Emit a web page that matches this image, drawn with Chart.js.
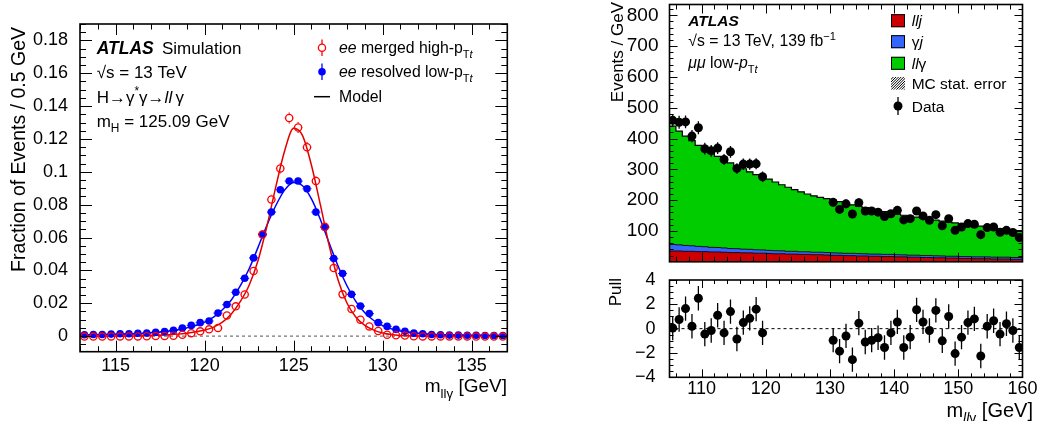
<!DOCTYPE html>
<html><head><meta charset="utf-8">
<script src="https://cdn.jsdelivr.net/npm/chart.js@4.4.1/dist/chart.umd.min.js"></script>
<style>
html,body{margin:0;padding:0;background:#fff;}
#wrap{position:relative;width:1038px;height:421px;overflow:hidden;background:#fff;}
.pane{position:absolute;}
canvas{display:block;}
</style></head><body>
<div id="wrap">
<div class="pane" style="left:0;top:0;width:520px;height:421px"><canvas id="cLeft" width="520" height="421"></canvas></div>
<div class="pane" style="left:520px;top:0;width:518px;height:270px"><canvas id="cTop" width="518" height="270"></canvas></div>
<div class="pane" style="left:520px;top:270px;width:518px;height:151px"><canvas id="cPull" width="518" height="151"></canvas></div>
</div>
<script>
const FAM = '"Liberation Sans", Arial, Helvetica, sans-serif';

// ---------------- LEFT PANEL DATA ----------------
const binCentres = [113.25,113.75,114.25,114.75,115.25,115.75,116.25,116.75,117.25,117.75,118.25,118.75,119.25,119.75,120.25,120.75,121.25,121.75,122.25,122.75,123.25,123.75,124.25,124.75,125.25,125.75,126.25,126.75,127.25,127.75,128.25,128.75,129.25,129.75,130.25,130.75,131.25,131.75,132.25,132.75,133.25,133.75,134.25,134.75,135.25,135.75,136.25,136.75];
const mergedHighPt = [-0.0003,-0.0003,-0.0003,-0.0002,-0.0002,-0.0002,-0.0002,-0.0001,0.0000,0.0001,0.0002,0.0008,0.0018,0.0029,0.0041,0.0049,0.0126,0.0181,0.0253,0.0397,0.0619,0.0832,0.1021,0.1328,0.1270,0.1150,0.0944,0.0665,0.0415,0.0254,0.0165,0.0100,0.0059,0.0031,0.0008,0.0005,0.0003,-0.0001,-0.0002,-0.0002,-0.0002,-0.0002,-0.0002,-0.0002,-0.0003,-0.0003,-0.0003,-0.0003];
const mergedErr = [0.0004,0.0004,0.0004,0.0004,0.0004,0.0004,0.0004,0.0004,0.0004,0.0004,0.0004,0.0006,0.0007,0.0008,0.0009,0.0010,0.0013,0.0015,0.0018,0.0022,0.0026,0.0029,0.0031,0.0033,0.0033,0.0031,0.0029,0.0025,0.0021,0.0017,0.0014,0.0011,0.0009,0.0007,0.0005,0.0004,0.0004,0.0004,0.0004,0.0004,0.0004,0.0004,0.0004,0.0004,0.0004,0.0004,0.0004,0.0004];
const resolvedLowPt = [0.0008,0.0010,0.0010,0.0012,0.0014,0.0014,0.0017,0.0019,0.0023,0.0027,0.0035,0.0049,0.0065,0.0082,0.0092,0.0140,0.0192,0.0267,0.0352,0.0476,0.0619,0.0755,0.0891,0.0944,0.0944,0.0897,0.0755,0.0663,0.0472,0.0381,0.0254,0.0183,0.0137,0.0082,0.0059,0.0041,0.0029,0.0018,0.0014,0.0010,0.0008,0.0006,0.0006,0.0005,0.0005,0.0004,0.0004,0.0004];
const resolvedErr = [0.0003,0.0003,0.0003,0.0003,0.0003,0.0003,0.0003,0.0003,0.0003,0.0003,0.0003,0.0004,0.0004,0.0005,0.0005,0.0006,0.0007,0.0008,0.0009,0.0010,0.0011,0.0012,0.0012,0.0013,0.0013,0.0012,0.0012,0.0011,0.0010,0.0009,0.0008,0.0007,0.0006,0.0005,0.0005,0.0004,0.0003,0.0003,0.0003,0.0003,0.0003,0.0003,0.0003,0.0003,0.0003,0.0003,0.0003,0.0003];
const binHalfWidth = 0.25;
const modelMass = [113,113.5,114,114.5,115,115.5,116,116.5,117,117.5,118,118.5,119,119.5,120,120.5,121,121.5,122,122.5,123,123.5,124,124.5,125,125.5,126,126.5,127,127.5,128,128.5,129,129.5,130,130.5,131,131.5,132,132.5,133,133.5,134,134.5,135,135.5,136,136.5,137];
const modelMerged = [0,0,0,0,0,0.0001,0.0001,0.0002,0.0003,0.0005,0.0008,0.0012,0.0018,0.0026,0.0037,0.0055,0.0085,0.0135,0.0210,0.0310,0.0460,0.0670,0.0910,0.1130,0.1265,0.1220,0.1040,0.0800,0.0550,0.0340,0.0200,0.0115,0.0065,0.0036,0.0019,0.0009,0.0004,0.0002,0.0001,0,0,0,0,0,0,0,0,0,0];
const modelResolved = [0.0007,0.0008,0.0008,0.0009,0.0010,0.0011,0.0013,0.0015,0.0021,0.0025,0.0031,0.0039,0.0050,0.0065,0.0085,0.0115,0.0160,0.0220,0.0305,0.0410,0.0540,0.0675,0.0795,0.0890,0.0935,0.0915,0.0835,0.0710,0.0565,0.0425,0.0305,0.0210,0.0142,0.0095,0.0064,0.0044,0.0031,0.0023,0.0017,0.0013,0.0010,0.0008,0.0007,0.0006,0.0005,0.0005,0.0004,0.0004,0.0003];
const leftXTicks = [115,120,125,130,135];
const leftYTicks = [0,0.02,0.04,0.06,0.08,0.1,0.12,0.14,0.16,0.18];

// ---------------- RIGHT PANEL DATA ----------------
const binEdges = [105,106,107,108,109,110,111,112,113,114,115,116,117,118,119,120,121,122,123,124,125,126,127,128,129,130,131,132,133,134,135,136,137,138,139,140,141,142,143,144,145,146,147,148,149,150,151,152,153,154,155,156,157,158,159,160];
const lljBkg = [36,35,35,34,34,33,33,32,32,31,30,30,29,29,28, 28,27,26,26,25,25,24,24,23,23, 22,21,21,20,20,19,19,18,18,17, 17,16,16,15,15,14,14,13,13,12, 12,11,11,10,10,10,9,9,9,8];
const gjBkg = [23,21,20,19,18,17,16,15,14.5,14,13,12.5,12,11.5,11, 10.5,10,10,9.5,9,9,8.5,8.5,8,8, 8,8,7.5,7.5,7.5,7.5,7,7,7,7, 7,7,6.5,6.5,6.5,6.5,6.5,6.5,6,6, 6,6,6,6,6,6,6,6,6,6];
const stackTotal = [452,440,424,408,393,378,365,353,342,332,321,311,302,292,283, 276,268,259,250,242,234,227,220,214,209, 205,200,195,190,185,180,176,171,167,163, 159,155,151,148,145,141,138,135,132,129, 126,123,121,118,116,113,110,107,104,101];
const dataMass = [105.5,106.5,107.5,108.5,109.5,110.5,111.5,112.5,113.5,114.5,115.5,116.5,117.5,118.5,119.5,130.5,131.5,132.5,133.5,134.5,135.5,136.5,137.5,138.5,139.5,140.5,141.5,142.5,143.5,144.5,145.5,146.5,147.5,148.5,149.5,150.5,151.5,152.5,153.5,154.5,155.5,156.5,157.5,158.5,159.5];
const dataEvents = [459,453,454,408,435,367,360,369,332,357,303,317,317,318,276, 193,170,188,155,192,165,165,161,147,156,167,136,140,165,149,135,153,117,140,102,113,124,122,88,111,113,96,102,95,79];
const dataErr = [21,21,21,20,21,19,19,19,18,19,17,18,18,18,17, 14,13,14,12,14,13,13,13,12,12,13,12,12,13,12, 12,12,11,12,10,11,11,11,9,11, 11,10,10,10,9];
const pullValues = [0.05,0.75,1.65,0.2,2.5,-0.45,-0.15,1.1,-0.35,1.4,-0.85,0.5,0.85,1.6,-0.35, -0.95,-1.85,-0.6,-2.55,0.45,-1.1,-0.95,-0.75,-1.55,-0.35, 0.55,-1.55,-0.7,1.55,0.55,-0.15,1.5,-1.0,1.0,-2.05, -0.7,0.5,0.8,-2.25,0.2,0.65,-0.45,0.4,-0.15,-1.55];
const pullErr = 1;
const topYTicks = [100,200,300,400,500,600,700,800];
const pullXTicks = [110,120,130,140,150,160];
const pullYTicks = [-4,-2,0,2,4];

// ---------------- helpers ----------------
function range(a, b, s){ const r=[]; for(let v=a; v<=b+1e-9; v+=s) r.push(+v.toFixed(6)); return r; }
function fontStr(p, size){ return (p.i?'italic ':'') + (p.b?'bold ':'') + size + 'px ' + FAM; }
function rich(ctx, x, y, parts, size, align){
  let w = 0;
  const items = parts.map(p => { const s = (p.sub||p.sup) ? size*0.7 : size; ctx.font = fontStr(p, s); const m = ctx.measureText(p.t).width; w += m; return {p, s, m}; });
  let cx = align === 'right' ? x - w : (align === 'center' ? x - w/2 : x);
  const base = y + size*0.36;
  ctx.textAlign = 'left'; ctx.textBaseline = 'alphabetic'; ctx.fillStyle = '#000';
  items.forEach(it => { ctx.font = fontStr(it.p, it.s); let by = base; if (it.p.sub) by += size*0.3; if (it.p.sup) by -= size*0.42; ctx.fillText(it.p.t, cx, by); cx += it.m; });
  return w;
}
function vrich(ctx, cx, top, parts, size){
  ctx.save(); ctx.translate(cx, top); ctx.rotate(-Math.PI/2); rich(ctx, 0, 0, parts, size, 'right'); ctx.restore();
}
function toPts(xs, ys){ return xs.map((x,i)=>({x, y: ys[i]})); }
function stepPts(edges, vals){ return edges.map((e,i)=>({x:e, y: vals[Math.min(i, vals.length-1)]})); }

const rootAxes = {
  id: 'rootAxes',
  afterDatasetsDraw(chart, args, o){
    const {ctx, chartArea: a} = chart; const xs = chart.scales.x, ys = chart.scales.y;
    ctx.save(); ctx.strokeStyle = '#000'; ctx.lineWidth = 1; ctx.beginPath();
    const doX = (vals, len) => vals.forEach(v => { const p = Math.round(xs.getPixelForValue(v)) + 0.5; if (p < a.left-0.5 || p > a.right+0.5) return; ctx.moveTo(p, a.bottom); ctx.lineTo(p, a.bottom - len); ctx.moveTo(p, a.top); ctx.lineTo(p, a.top + len); });
    const doY = (vals, len) => vals.forEach(v => { const p = Math.round(ys.getPixelForValue(v)) + 0.5; if (p < a.top-0.5 || p > a.bottom+0.5) return; ctx.moveTo(a.left, p); ctx.lineTo(a.left + len, p); ctx.moveTo(a.right, p); ctx.lineTo(a.right - len, p); });
    doX(o.xMajor, o.xMajLen); doX(o.xMinor, o.xMinLen); doY(o.yMajor, o.yMajLen); doY(o.yMinor, o.yMinLen);
    ctx.stroke();
    ctx.lineWidth = 1.6; ctx.strokeRect(a.left, a.top, a.right - a.left, a.bottom - a.top);
    ctx.restore();
  }
};

const errBars = {
  id: 'errBars',
  afterDatasetsDraw(chart){
    const {ctx, chartArea: a} = chart; const xs = chart.scales.x, ys = chart.scales.y;
    ctx.save(); ctx.beginPath(); ctx.rect(a.left, a.top, a.right-a.left, a.bottom-a.top); ctx.clip();
    chart.data.datasets.forEach((ds, di) => {
      if (ds.errY === undefined) return;
      const meta = chart.getDatasetMeta(di);
      ctx.strokeStyle = ds.errColor; ctx.lineWidth = ds.errWidth || 1.2; ctx.beginPath();
      const r = ds.skipR || 0;
      meta.data.forEach((pt, i) => {
        const d = ds.data[i];
        const ey = Array.isArray(ds.errY) ? ds.errY[i] : ds.errY;
        const yt = ys.getPixelForValue(d.y + ey), yb = ys.getPixelForValue(d.y - ey);
        if (pt.y - yt > r) { ctx.moveTo(pt.x, yt); ctx.lineTo(pt.x, pt.y - r); }
        if (yb - pt.y > r) { ctx.moveTo(pt.x, pt.y + r); ctx.lineTo(pt.x, yb); }
        if (ds.errX) {
          const xl = xs.getPixelForValue(d.x - ds.errX), xr = xs.getPixelForValue(d.x + ds.errX);
          if (pt.x - xl > r) { ctx.moveTo(xl, pt.y); ctx.lineTo(pt.x - r, pt.y); }
          if (xr - pt.x > r) { ctx.moveTo(pt.x + r, pt.y); ctx.lineTo(xr, pt.y); }
        }
      });
      ctx.stroke();
    });
    ctx.restore();
  }
};

function fixedAxis(size, isY){
  return s => { if (isY) { s.width = size; s.paddingTop = 0; s.paddingBottom = 0; } else { s.height = size; s.paddingLeft = 0; s.paddingRight = 0; } };
}
const baseOpts = { responsive:false, animation:false, devicePixelRatio:1, events:[] };

// ---------------- LEFT CHART ----------------
const leftText = {
  id: 'leftText',
  afterDraw(chart){
    const ctx = chart.ctx; ctx.save();
    rich(ctx, 96.7, 47.7, [{t:'ATLAS', b:true, i:true}], 17.5);
    rich(ctx, 162, 47.7, [{t:'Simulation'}], 17);
    rich(ctx, 96.7, 71.5, [{t:'\u221As = 13 TeV'}], 17);
    rich(ctx, 96.7, 96.5, [{t:'H\u2192\u03B3'},{t:'*',sup:true},{t:'\u03B3\u2192'},{t:'ll',i:true},{t:'\u2009\u03B3'}], 17);
    rich(ctx, 96.7, 120.5, [{t:'m'},{t:'H',sub:true},{t:' = 125.09 GeV'}], 17);
    // legend
    ctx.strokeStyle = '#ff0000'; ctx.lineWidth = 1.3;
    ctx.beginPath(); ctx.arc(322, 47.7, 3.6, 0, Math.PI*2); ctx.stroke();
    ctx.beginPath(); ctx.moveTo(322, 39.5); ctx.lineTo(322, 44); ctx.moveTo(322, 51.4); ctx.lineTo(322, 56); ctx.stroke();
    ctx.fillStyle = '#0000ff'; ctx.strokeStyle = '#0000ff';
    ctx.beginPath(); ctx.arc(322, 71.7, 3.8, 0, Math.PI*2); ctx.fill();
    ctx.beginPath(); ctx.moveTo(322, 63.5); ctx.lineTo(322, 80); ctx.stroke();
    ctx.strokeStyle = '#000'; ctx.lineWidth = 1.5;
    ctx.beginPath(); ctx.moveTo(314, 96.7); ctx.lineTo(330, 96.7); ctx.stroke();
    rich(ctx, 339, 47.7, [{t:'ee',i:true},{t:' merged high-p'},{t:'T',sub:true},{t:'t',sub:true,i:true}], 15.8);
    rich(ctx, 339, 71.7, [{t:'ee',i:true},{t:' resolved low-p'},{t:'T',sub:true},{t:'t',sub:true,i:true}], 15.8);
    rich(ctx, 339, 96.7, [{t:'Model'}], 15.8);
    // axis titles
    vrich(ctx, 17.5, 27, [{t:'Fraction of Events / 0.5 GeV'}], 19.5);
    rich(ctx, 507, 385, [{t:'m'},{t:'ll\u03B3',sub:true},{t:' [GeV]'}], 19, 'right');
    ctx.restore();
  }
};

new Chart(document.getElementById('cLeft'), {
  type: 'scatter',
  data: { datasets: [
    { label:'ee merged high-pTt', data: toPts(binCentres, mergedHighPt), pointRadius:3.6, pointBorderWidth:1.3, borderColor:'#ff0000', backgroundColor:'rgba(0,0,0,0)', errY: mergedErr, errX: binHalfWidth, errColor:'#ff0000', skipR:4.2 },
    { label:'ee resolved low-pTt', data: toPts(binCentres, resolvedLowPt), pointRadius:3.8, pointBorderWidth:0, borderColor:'#0000ff', backgroundColor:'#0000ff', errY: resolvedErr, errX: binHalfWidth, errColor:'#0000ff', skipR:3.6 },
    { type:'line', label:'Model merged', data: toPts(modelMass, modelMerged), borderColor:'#e00000', borderWidth:1.5, pointRadius:0, cubicInterpolationMode:'monotone', fill:false },
    { type:'line', label:'Model resolved', data: toPts(modelMass, modelResolved), borderColor:'#0000ff', borderWidth:1.5, pointRadius:0, cubicInterpolationMode:'monotone', fill:false },
    { type:'line', label:'zero', data: [{x:113,y:0},{x:137,y:0}], borderColor:'#555', borderWidth:1, borderDash:[3,3], pointRadius:0, fill:false }
  ]},
  options: Object.assign({}, baseOpts, {
    layout: { padding: { left:0, top:24, right:12.7, bottom:0 } },
    plugins: { legend:{display:false}, tooltip:{enabled:false},
      rootAxes: { xMajor: leftXTicks, xMinor: range(113,137,1), yMajor: leftYTicks, yMinor: range(-0.005,0.19,0.005), xMajLen:11, xMinLen:5.5, yMajLen:12, yMinLen:6 } },
    scales: {
      x: { type:'linear', min:113, max:137, grid:{display:false}, border:{display:false},
           afterBuildTicks: s => { s.ticks = leftXTicks.map(v => ({value:v})); }, afterFit: fixedAxis(69.3, false),
           ticks: { font:{size:18, family:FAM, lineHeight:1}, color:'#000', padding:-2.5, maxRotation:0, autoSkip:false } },
      y: { type:'linear', min:-0.0095, max:0.19, grid:{display:false}, border:{display:false},
           afterBuildTicks: s => { s.ticks = leftYTicks.map(v => ({value:v})); }, afterFit: fixedAxis(80, true),
           ticks: { font:{size:18, family:FAM}, color:'#000', padding:4, autoSkip:false, callback: v => String(Math.round(v*1000)/1000) } }
    }
  }),
  plugins: [errBars, rootAxes, leftText]
});

// ---------------- RIGHT TOP CHART ----------------
const redCum = lljBkg.slice();
const blueCum = lljBkg.map((v,i) => v + gjBkg[i]);
const llgSignal = stackTotal.map((v,i) => v - lljBkg[i] - gjBkg[i]);
const greenCum = blueCum.map((v,i) => v + llgSignal[i]);

const topText = {
  id: 'topText',
  afterDraw(chart){
    const ctx = chart.ctx; ctx.save(); ctx.translate(-520, 0);
    rich(ctx, 688.3, 20, [{t:'ATLAS', b:true, i:true}], 15.5);
    rich(ctx, 688.3, 40.5, [{t:'\u221As = 13 TeV, 139 fb'},{t:'\u22121',sup:true}], 15.8);
    rich(ctx, 688.3, 62.5, [{t:'\u03BC\u03BC',i:true},{t:' low-'},{t:'p',i:true},{t:'T',sub:true},{t:'t',sub:true,i:true}], 15.8);
    // legend boxes
    const bx = 891, bw = 14, bh = 13;
    const box = (cy, col) => { ctx.fillStyle = col; ctx.fillRect(bx, cy - bh/2, bw, bh); ctx.strokeStyle = '#000'; ctx.lineWidth = 1; ctx.strokeRect(bx+0.5, cy - bh/2 + 0.5, bw-1, bh-1); };
    box(20.7, '#cc0000'); box(41.7, '#3366ff'); box(63.3, '#00cc00');
    // hatched box
    ctx.save(); ctx.beginPath(); ctx.rect(bx, 83.3 - bh/2, bw, bh); ctx.clip();
    ctx.strokeStyle = '#000'; ctx.lineWidth = 1; ctx.beginPath();
    for (let k = -bh; k < bw + bh; k += 2.6) { ctx.moveTo(bx + k, 83.3 + bh/2); ctx.lineTo(bx + k + bh, 83.3 - bh/2); }
    ctx.stroke(); ctx.restore();
    // data marker
    ctx.fillStyle = '#000'; ctx.beginPath(); ctx.arc(898, 106, 4.5, 0, Math.PI*2); ctx.fill();
    ctx.strokeStyle = '#000'; ctx.lineWidth = 1.3; ctx.beginPath(); ctx.moveTo(898, 97); ctx.lineTo(898, 115); ctx.stroke();
    const tx = 911.7;
    rich(ctx, tx, 20.7, [{t:'llj', i:true}], 15.5);
    rich(ctx, tx, 41.7, [{t:'\u03B3'},{t:'j', i:true}], 15.5);
    rich(ctx, tx, 63.3, [{t:'ll', i:true},{t:'\u03B3'}], 15.5);
    rich(ctx, tx, 83.3, [{t:'MC stat. error'}], 15.5);
    rich(ctx, tx, 106, [{t:'Data'}], 15.5);
    vrich(ctx, 616.7, 2, [{t:'Events / GeV'}], 17);
    ctx.restore();
  }
};

new Chart(document.getElementById('cTop'), {
  type: 'scatter',
  data: { datasets: [
    { label:'Data', data: toPts(dataMass, dataEvents), pointRadius:4.5, pointBorderWidth:0, backgroundColor:'#000', borderColor:'#000', errY: dataErr, errColor:'#000', errWidth:1.3, skipR:0 },
    { type:'line', label:'llj', data: stepPts(binEdges, redCum), stepped:'after', borderColor:'#111', borderWidth:1, backgroundColor:'#cc0000', fill:'origin', pointRadius:0 },
    { type:'line', label:'gj', data: stepPts(binEdges, blueCum), stepped:'after', borderColor:'#111', borderWidth:1, backgroundColor:'#3366ff', fill:'origin', pointRadius:0 },
    { type:'line', label:'llg', data: stepPts(binEdges, greenCum), stepped:'after', borderColor:'#000', borderWidth:1.2, backgroundColor:'#00cc00', fill:'origin', pointRadius:0 }
  ]},
  options: Object.assign({}, baseOpts, {
    layout: { padding: { left:0, top:2.7, right:15.5, bottom:0 } },
    plugins: { legend:{display:false}, tooltip:{enabled:false},
      rootAxes: { xMajor: pullXTicks, xMinor: range(106,160,2), yMajor: topYTicks, yMinor: range(20,820,20), xMajLen:9, xMinLen:5, yMajLen:8, yMinLen:4 } },
    scales: {
      x: { type:'linear', min:105, max:160, grid:{display:false}, border:{display:false}, ticks:{display:false}, afterFit: fixedAxis(8.2, false) },
      y: { type:'linear', min:0, max:835, grid:{display:false}, border:{display:false},
           afterBuildTicks: s => { s.ticks = topYTicks.map(v => ({value:v})); }, afterFit: fixedAxis(149.5, true),
           ticks: { font:{size:19, family:FAM}, color:'#000', padding:3, autoSkip:false } }
    }
  }),
  plugins: [errBars, rootAxes, topText]
});

// ---------------- PULL CHART ----------------
const pullText = {
  id: 'pullText',
  afterDraw(chart){
    const ctx = chart.ctx; ctx.save(); ctx.translate(-520, -270);
    vrich(ctx, 615, 278, [{t:'Pull'}], 17);
    rich(ctx, 1033, 410, [{t:'m'},{t:'ll',sub:true,i:true},{t:'\u03B3',sub:true},{t:' [GeV]'}], 20, 'right');
    ctx.restore();
  }
};

new Chart(document.getElementById('cPull'), {
  type: 'scatter',
  data: { datasets: [
    { label:'Pull', data: toPts(dataMass, pullValues), pointRadius:4.5, pointBorderWidth:0, backgroundColor:'#000', borderColor:'#000', errY: pullErr, errColor:'#000', errWidth:1.3, skipR:0 },
    { type:'line', label:'zero', data: [{x:105,y:0},{x:160,y:0}], borderColor:'#000', borderWidth:1, borderDash:[3,3], pointRadius:0, fill:false }
  ]},
  options: Object.assign({}, baseOpts, {
    layout: { padding: { left:0, top:10, right:15.5, bottom:0 } },
    plugins: { legend:{display:false}, tooltip:{enabled:false},
      rootAxes: { xMajor: pullXTicks, xMinor: range(106,160,2), yMajor: pullYTicks, yMinor: range(-4,4,0.5), xMajLen:8, xMinLen:4, yMajLen:8, yMinLen:4 } },
    scales: {
      x: { type:'linear', min:105, max:160, grid:{display:false}, border:{display:false},
           afterBuildTicks: s => { s.ticks = pullXTicks.map(v => ({value:v})); }, afterFit: fixedAxis(43.7, false),
           ticks: { font:{size:18, family:FAM, lineHeight:1}, color:'#000', padding:-5, maxRotation:0, autoSkip:false } },
      y: { type:'linear', min:-4, max:4, grid:{display:false}, border:{display:false},
           afterBuildTicks: s => { s.ticks = pullYTicks.map(v => ({value:v})); }, afterFit: fixedAxis(149.5, true),
           ticks: { font:{size:18, family:FAM}, color:'#000', padding:6, autoSkip:false, callback: v => String(v).replace('-', '\u2212') } }
    }
  }),
  plugins: [errBars, rootAxes, pullText]
});
</script>
</body></html>
